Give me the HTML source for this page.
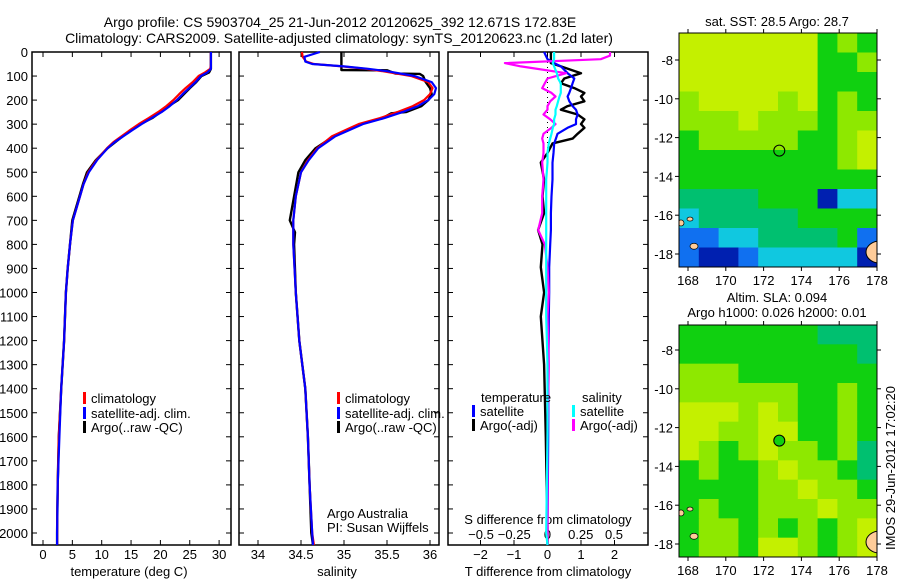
<!DOCTYPE html>
<html><head><meta charset="utf-8">
<style>
html,body{margin:0;padding:0;background:#fff;}
svg{display:block;font-family:"Liberation Sans",sans-serif;}
text{fill:#000;}
</style></head>
<body>
<svg id="fig" width="900" height="580" viewBox="0 0 900 580" xmlns="http://www.w3.org/2000/svg">
<defs>
<clipPath id="clipMap1"><rect x="679" y="33" width="198" height="234"/></clipPath>
<clipPath id="clipMap2"><rect x="679" y="325" width="198" height="232"/></clipPath>
</defs>
<rect x="0" y="0" width="900" height="580" fill="#fff"/>
<text x="340" y="27" font-size="14" text-anchor="middle">Argo profile: CS 5903704_25 21-Jun-2012 20120625_392 12.671S 172.83E</text>
<text x="339" y="43" font-size="14" text-anchor="middle">Climatology: CARS2009. Satellite-adjusted climatology: synTS_20120623.nc (1.2d later)</text>
<g id="g1"></g>
<g id="g2"></g>
<g id="g3"></g>
<g id="m1"></g>
<g id="m2"></g>
<text x="777" y="26" font-size="13" text-anchor="middle">sat. SST: 28.5 Argo: 28.7</text>
<text x="777" y="302" font-size="13" text-anchor="middle">Altim. SLA: 0.094</text>
<text x="777" y="317" font-size="13" text-anchor="middle">Argo h1000: 0.026 h2000: 0.01</text>
<text transform="translate(895,468) rotate(-90)" font-size="13" text-anchor="middle">IMOS 29-Jun-2012 17:02:20</text>
</svg>
<script>
// ---------- data ----------
const depthTicks = [0,100,200,300,400,500,600,700,800,900,1000,1100,1200,1300,1400,1500,1600,1700,1800,1900,2000];
const tempTicks = [0,5,10,15,20,25,30];
const salTicks = [34,34.5,35,35.5,36];
const salTickLabels = ["34","34.5","35","35.5","36"];
const dTTicks = [-2,-1,0,1,2];
const dSTicks = [-0.5,-0.25,0,0.25,0.5];
const dSTickLabels = ["-0.5","-0.25","0","0.25","0.5"];

const depthT = [0,20,50,70,85,100,125,150,175,200,225,250,275,300,325,350,375,400,450,500,550,600,700,800,900,1000,1200,1400,1600,1800,2000,2050];
const tempClim = [28.6,28.6,28.6,28.5,27.6,26.5,25.5,24.3,23.2,22.2,21.0,19.6,18.0,16.3,14.8,13.4,12.0,10.9,9.1,7.7,6.9,6.3,5.1,4.6,4.2,3.9,3.6,3.1,2.7,2.5,2.4,2.4];
const tempSat  = [28.6,28.6,28.6,28.6,28.0,26.9,26.0,24.9,23.8,22.8,21.6,20.2,18.5,16.8,15.2,13.7,12.2,11.0,9.2,7.8,6.9,6.3,5.1,4.6,4.2,3.9,3.6,3.1,2.8,2.5,2.4,2.4];
const tempArgo = [28.6,28.6,28.6,28.6,28.3,27.0,26.1,25.0,24.0,23.0,21.4,20.0,18.6,16.6,14.9,13.6,12.3,11.0,9.0,7.5,6.8,6.2,5.0,4.6,4.2,3.9,3.6,3.1,2.7,2.5,2.4,2.4];

const depthS = [0,20,40,50,60,70,80,100,125,150,175,200,225,250,275,300,350,400,450,500,600,700,800,1000,1200,1400,1600,1800,2000,2050];
const salClim = [34.51,34.52,34.56,34.65,34.98,35.25,35.45,35.78,35.98,36.03,36.0,35.93,35.8,35.62,35.42,35.17,34.86,34.69,34.58,34.5,34.44,34.41,34.41,34.44,34.48,34.55,34.58,34.6,34.63,34.65];
const salSat  = [34.72,34.54,34.55,34.63,35.0,35.28,35.5,35.82,36.02,36.07,36.05,35.98,35.86,35.68,35.47,35.22,34.9,34.7,34.59,34.5,34.44,34.41,34.41,34.44,34.48,34.55,34.58,34.6,34.63,34.64];
const depthSA = [0,75,76,90,91,100,125,150,175,200,225,250,255,275,300,350,400,450,500,600,700,750,800,1000,1200,1400,1600,1800,2000,2050];
const salArgo = [34.97,34.97,35.5,35.6,35.88,35.92,35.95,36.0,36.02,35.98,35.9,35.72,35.55,35.45,35.2,34.88,34.67,34.55,34.47,34.42,34.37,34.43,34.42,34.44,34.48,34.55,34.58,34.6,34.62,34.64];

const depthD = [0,15,30,46,60,88,110,130,150,170,185,205,225,240,260,280,300,315,340,360,380,420,460,530,600,670,740,800,895,1000,1100,1300,1600,2000,2050];
const dTArgo = [0.1,0.1,0.1,0.1,0.4,1.0,0.5,0.4,0.8,1.1,1.0,1.1,0.6,0.4,0.9,1.1,1.0,1.1,0.9,0.75,0.15,0.0,-0.2,-0.1,-0.15,-0.1,-0.28,-0.15,-0.2,-0.1,-0.2,-0.1,-0.05,0.0,0.0];
const dTSat  = [-0.1,-0.05,0.0,0.2,0.4,0.6,0.8,0.75,0.7,0.65,0.6,0.65,0.75,0.85,0.9,0.85,0.85,0.6,0.3,0.25,0.2,0.18,0.15,0.15,0.12,0.1,0.1,0.08,0.05,0.05,0.04,0.03,0.02,0.0,0.0];
const dSArgo = [0.47,0.47,0.4,-0.32,-0.2,0.14,0.0,-0.02,-0.04,0.03,0.06,0.02,0.0,0.0,-0.03,0.02,0.06,0.03,-0.03,-0.04,-0.03,-0.03,-0.04,-0.03,-0.04,-0.04,-0.07,-0.02,0.0,0.01,0.0,0.01,0.0,0.0,0.0];
const dSSat  = [0.05,0.05,0.05,0.04,0.05,0.07,0.08,0.1,0.1,0.1,0.09,0.08,0.07,0.06,0.06,0.05,0.05,0.04,0.03,0.02,0.01,0.0,0.0,-0.01,-0.01,-0.01,-0.01,-0.01,-0.01,-0.01,-0.01,0.0,0.0,-0.01,0.0];

const lonTicks = [168,170,172,174,176,178];
const latTicks1 = [-8,-10,-12,-14,-16,-18];
const latTicks2 = [-8,-10,-12,-14,-16,-18];
const sstGrid = ["YYYYYYYGLG","YYYYYYYGGL","YYYYYYYGGG","LYYYYLYGLG","LLLYLLLGLL","GLLLLLGGLY","GGGGGGGGLY","GGGGGGGGGG","TTTTGGGDCC","CTTTTTGGGG","BBCCTTTTGB","BDDBCCCCCD"];
const slaGrid = ["GGGGGGGTTT","GGGGGGGGGT","LLLGGGGGGG","LLLLLLGGLG","YYYLYLGGLG","YYLLYYGGLG","YLGLYLLGLT","GLGGLYLLGT","GGGGLLYLLG","GLGGLLLYLL","GLLGLGLGLY","GLLGYYLGLY"];
const colorKey = {Y:"#c4f000",L:"#8ee800",G:"#10d010",T:"#00c070",C:"#10c8e0",B:"#1070f0",D:"#0020b0"};

// ---------- helpers ----------
const NS="http://www.w3.org/2000/svg";
function mk(parent,tag,attrs){const e=document.createElementNS(NS,tag);for(const k in attrs)e.setAttribute(k,attrs[k]);parent.appendChild(e);return e;}
const Y0=52, YB=545;
function yD(d){return Y0 + d*0.2405;}
function axisBox(g,x0,x1){
  const r=mk(g,'rect',{x:x0,y:Y0,width:x1-x0,height:YB-Y0,fill:'none',stroke:'#000','stroke-width':1.5});
  
  
  depthTicks.forEach(d=>{
    mk(g,'line',{x1:x0,x2:x0+5,y1:yD(d),y2:yD(d),stroke:'#000'});
    mk(g,'line',{x1:x1,x2:x1-5,y1:yD(d),y2:yD(d),stroke:'#000'});
  });
}
function xTicks(g,vals,labels,fx,ly){
  vals.forEach((v,i)=>{
    const x=fx(v);
    mk(g,'line',{x1:x,x2:x,y1:YB,y2:YB-5,stroke:'#000'});
    mk(g,'line',{x1:x,x2:x,y1:Y0,y2:Y0+5,stroke:'#000'});
    const t=mk(g,'text',{x:x,y:ly,'font-size':13,'text-anchor':'middle'});
    t.textContent=labels[i];
    
    
  });
}
function line(g,xs,ds,fx,color,name,w){
  const p=xs.map((v,i)=>fx(v).toFixed(1)+','+yD(ds[i]).toFixed(1)).join(' ');
  const e=mk(g,'polyline',{points:p,fill:'none',stroke:color,'stroke-width':w||2.2,'stroke-linejoin':'round'});
  
  
}
function legendRow(g,x,y,color,label){
  mk(g,'rect',{x:x,y:y-11,width:3,height:12,fill:color});
  const t=mk(g,'text',{x:x+8,y:y,'font-size':13});
  t.textContent=label;
  
  
}
function txt(g,x,y,s,anchor,name,size){
  const t=mk(g,'text',{x:x,y:y,'font-size':size||13,'text-anchor':anchor||'start'});
  t.textContent=s;
  
  
  return t;
}

// ---------- panel 1 ----------
const g1=document.getElementById('g1');
const xT=t=>43+t*5.87;
axisBox(g1,32,231);
depthTicks.forEach(d=>{txt(g1,28,yD(d)+5,String(d),'end','y-tick-label');});
xTicks(g1,tempTicks,tempTicks.map(String),xT,559);
txt(g1,129,576,'temperature (deg C)','middle','x-axis-title');
line(g1,tempArgo,depthT,xT,'#000','temp-argo-line',2.4);
line(g1,tempClim,depthT,xT,'#f00','temp-clim-line');
line(g1,tempSat,depthT,xT,'#00f','temp-sat-line');
legendRow(g1,83,403,'#f00','climatology');
legendRow(g1,83,418,'#00f','satellite-adj. clim.');
legendRow(g1,83,432,'#000','Argo(..raw -QC)');

// ---------- panel 2 ----------
const g2=document.getElementById('g2');
const xS=s=>258+(s-34)*86;
axisBox(g2,239,439);
xTicks(g2,salTicks,salTickLabels,xS,559);
txt(g2,337,576,'salinity','middle','x-axis-title');
line(g2,salArgo,depthSA,xS,'#000','sal-argo-line',2.4);
line(g2,salClim,depthS,xS,'#f00','sal-clim-line');
line(g2,salSat,depthS,xS,'#00f','sal-sat-line');
legendRow(g2,337,403,'#f00','climatology');
legendRow(g2,337,418,'#00f','satellite-adj. clim.');
legendRow(g2,337,432,'#000','Argo(..raw -QC)');
txt(g2,327,518,'Argo Australia','start','credit-line-1');
txt(g2,327,532,'PI: Susan Wijffels','start','credit-line-2');

// ---------- panel 3 ----------
const g3=document.getElementById('g3');
const xdT=v=>547.5+v*33.5;
const xdS=v=>547.5+v*133;
axisBox(g3,448,648);
xTicks(g3,dTTicks,dTTicks.map(v=>v<0?'\u2212'+(-v):String(v)),xdT,559);
dSTicks.forEach((v,i)=>{txt(g3,xdS(v),539,dSTickLabels[i].replace('-','\u2212'),'middle','s-tick-label');});
txt(g3,548,524,'S difference from climatology','middle','s-axis-title');
txt(g3,548,576,'T difference from climatology','middle','x-axis-title');
mk(g3,'line',{x1:547.5,x2:547.5,y1:Y0,y2:yD(420),stroke:'#000','stroke-dasharray':'1,4'});
line(g3,dTArgo,depthD,xdT,'#000','dT-argo-line',2.4);
line(g3,dTSat,depthD,xdT,'#00f','dT-sat-line');
line(g3,dSArgo,depthD,xdS,'#f0f','dS-argo-line');
line(g3,dSSat,depthD,xdS,'#0ff','dS-sat-line');
txt(g3,481,402,'temperature','start','legend-title-temperature');
txt(g3,582,402,'salinity','start','legend-title-salinity');
legendRow(g3,472,416,'#00f','satellite');
legendRow(g3,472,430,'#000','Argo(-adj)');
legendRow(g3,572,416,'#0ff','satellite');
legendRow(g3,572,430,'#f0f','Argo(-adj)');

// ---------- maps ----------
function drawMap(g,grid,y0,y1,latRef,latTicks,markerFill,clipId){
  const x0=679,x1=877;
  const lonX=l=>688+(l-168)*18.9;
  const latY=la=>latRef.y+(latRef.lat-la)*19.4;
  const rows=grid.length, cols=grid[0].length;
  const cw=(x1-x0)/cols, ch=(y1-y0)/rows;
  const inner=mk(g,'g',{'clip-path':'url(#'+clipId+')'});
  grid.forEach((row,r)=>{for(let c=0;c<cols;c++){
    const e=mk(inner,'rect',{x:x0+c*cw,y:y0+r*ch,width:cw+0.5,height:ch+0.5,fill:colorKey[row[c]]});
    
    
  }});
  mk(inner,'ellipse',{cx:880,cy:latY(-17.9),rx:14,ry:11,fill:'#ffcc99',stroke:'#000'});
  mk(inner,'ellipse',{cx:694,cy:latY(-17.6),rx:4,ry:3,fill:'#ffcc99',stroke:'#000','stroke-width':0.7});
  mk(inner,'ellipse',{cx:690,cy:latY(-16.2),rx:3,ry:2,fill:'#ffcc99',stroke:'#000','stroke-width':0.7});
  mk(inner,'ellipse',{cx:681,cy:latY(-16.4),rx:3,ry:3,fill:'#ffcc99',stroke:'#000','stroke-width':0.7});
  const m=mk(g,'circle',{cx:lonX(172.83),cy:latY(-12.671),r:5.5,fill:markerFill,stroke:'#000','stroke-width':1});
  
  
  mk(g,'rect',{x:x0,y:y0,width:x1-x0,height:y1-y0,fill:'none',stroke:'#000','stroke-width':1});
  lonTicks.forEach(l=>{const x=lonX(l);
    mk(g,'line',{x1:x,x2:x,y1:y1,y2:y1+4,stroke:'#000'});
    mk(g,'line',{x1:x,x2:x,y1:y0,y2:y0-4,stroke:'#000'});
    txt(g,x,y1+18,String(l),'middle','lon-tick-label');});
  latTicks.forEach(la=>{const y=latY(la);
    mk(g,'line',{x1:x0,x2:x0-4,y1:y,y2:y,stroke:'#000'});
    mk(g,'line',{x1:x1,x2:x1+4,y1:y,y2:y,stroke:'#000'});
    txt(g,x0-6,y+5,String(la),'end','lat-tick-label');});
}
drawMap(document.getElementById('m1'),sstGrid,33,267,{lat:-8,y:60},latTicks1,'none','clipMap1');
drawMap(document.getElementById('m2'),slaGrid,325,557,{lat:-8,y:350},latTicks2,'#10d010','clipMap2');
</script>
</body></html>
